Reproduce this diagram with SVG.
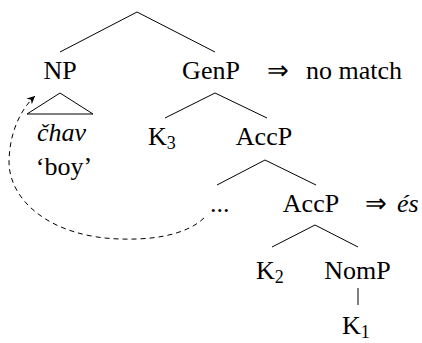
<svg xmlns="http://www.w3.org/2000/svg" width="422" height="343" viewBox="0 0 422 343">
<defs>
<style>
.t{font-family:'Liberation Serif','Times New Roman',serif;font-size:26px;fill:#000}
.it{font-style:italic}
.sub{font-size:18px}
.e{stroke:#000;stroke-width:1;fill:none}
.dash{stroke-dasharray:5 4}
</style>
<marker id="ah" markerWidth="10" markerHeight="10" refX="8" refY="4" orient="auto" markerUnits="userSpaceOnUse">
<path d="M0,0 L8,4 L0,8 L2.5,4 Z" fill="#000"/>
</marker>
</defs>
<rect width="422" height="343" fill="#fff"/>
<g id="edges">
<polyline class="e" points="60,52 137,12 215,52"/>
<polyline class="e" points="165,118 215,93 267,118"/>
<polyline class="e" points="217,185 265,160 316,185"/>
<polyline class="e" points="272,247 315,225 358,247"/>
<line class="e" x1="358" y1="288" x2="358" y2="305"/>
<polygon class="e" points="60,93 27,114 93,114"/>
<path class="e dash" d="M204 218 C185 236,150 240,120 239 C50 237,8 200,9 160 C10 130,22 108,35 96" marker-end="url(#ah)"/>
</g>
<g id="np"><text class="t" x="60" y="79" text-anchor="middle">NP</text></g>
<g id="genp"><text class="t" x="211" y="79" text-anchor="middle">GenP</text><text class="t" x="277.5" y="79" text-anchor="middle">⇒</text><text class="t" x="354" y="79" text-anchor="middle">no match</text></g>
<g id="chav"><text class="t it" x="61.5" y="141" text-anchor="middle">čhav</text><text class="t" x="64" y="175" text-anchor="middle">‘boy’</text></g>
<g id="k3"><text class="t" x="148" y="145">K<tspan class="sub" dy="4">3</tspan></text></g>
<g id="accp1"><text class="t" x="264" y="145" text-anchor="middle">AccP</text></g>
<g id="dots"><text class="t" x="210" y="212">...</text></g>
<g id="accp2"><text class="t" x="311" y="212" text-anchor="middle">AccP</text><text class="t" x="375.5" y="212" text-anchor="middle">⇒</text><text class="t it" x="397" y="212">és</text></g>
<g id="k2"><text class="t" x="256" y="279">K<tspan class="sub" dy="4">2</tspan></text></g>
<g id="nomp"><text class="t" x="357.5" y="279" text-anchor="middle">NomP</text></g>
<g id="k1"><text class="t" x="342" y="334">K<tspan class="sub" dy="4">1</tspan></text></g>
</svg>
